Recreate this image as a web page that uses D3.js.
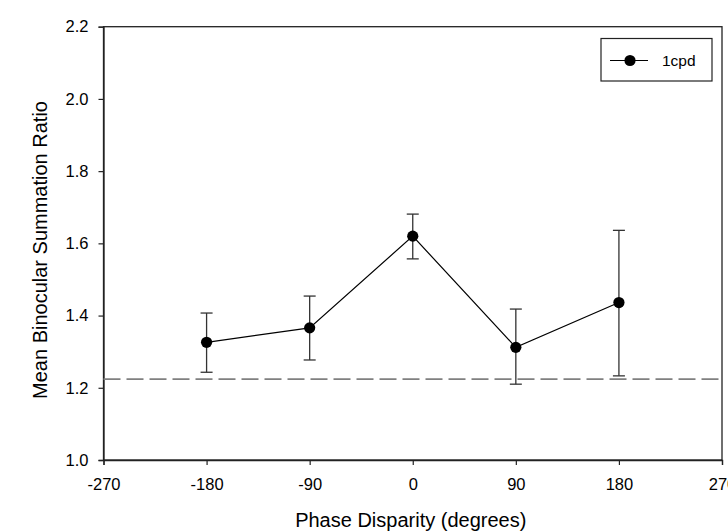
<!DOCTYPE html>
<html><head><meta charset="utf-8">
<script src="https://cdn.jsdelivr.net/npm/d3@7"></script>
<style>body{margin:0;background:#fff}svg{display:block}text{font-family:"Liberation Sans",Arial,sans-serif}</style>
</head><body>
<svg id="c" width="728" height="531"></svg>
<script>
const phases = [-180, -90, 0, 90, 180];
const means = [1.326, 1.366, 1.620, 1.312, 1.436];
const errUpper = [1.407, 1.454, 1.681, 1.418, 1.636];
const errLower = [1.243, 1.277, 1.557, 1.210, 1.233];
const baseline = 1.224;
const xTicks = [-270, -180, -90, 0, 90, 180, 270];
const yTicks = [1.0, 1.2, 1.4, 1.6, 1.8, 2.0, 2.2];
const seriesName = "1cpd";

const svg = d3.select("#c");
const L = 103.5, R = 722, T = 26.7, B = 460;
const x = d3.scaleLinear().domain([-270, 270]).range([L, R]);
const y = d3.scaleLinear().domain([1.0, 2.2]).range([B, T]);

svg.append("rect").attr("x", L).attr("y", T).attr("width", R - L).attr("height", B - T)
  .attr("fill", "none").attr("stroke", "#222").attr("stroke-width", 1.3);

const xAxis = svg.append("g").attr("transform", `translate(0,${B})`)
  .call(d3.axisBottom(x).tickValues(xTicks).tickSize(5).tickPadding(13).tickFormat(d => String(d)));
const yAxis = svg.append("g").attr("transform", `translate(${L},0)`)
  .call(d3.axisLeft(y).tickValues(yTicks).tickSize(5).tickPadding(10).tickFormat(d => d.toFixed(1)));
[xAxis, yAxis].forEach(g => {
  g.attr("font-size", null).attr("font-family", null);
  g.select(".domain").attr("stroke", "#222").attr("stroke-width", 1.3);
  g.selectAll(".tick line").attr("stroke", "#222").attr("stroke-width", 1.2);
  g.selectAll("text").attr("fill", "#000").style("font-size", "16.5px");
});
xAxis.selectAll("text").attr("dy", "0.71em");

svg.append("line").attr("x1", L).attr("x2", R).attr("y1", y(baseline)).attr("y2", y(baseline))
  .attr("stroke", "#808080").attr("stroke-width", 1.7).attr("stroke-dasharray", "17,6");

const data = phases.map((p, i) => ({p, m: means[i], hi: errUpper[i], lo: errLower[i]}));

const eb = svg.append("g").attr("stroke", "#333").attr("stroke-width", 1.3);
data.forEach(d => {
  eb.append("line").attr("x1", x(d.p)).attr("x2", x(d.p)).attr("y1", y(d.hi)).attr("y2", y(d.lo));
  eb.append("line").attr("x1", x(d.p) - 6).attr("x2", x(d.p) + 6).attr("y1", y(d.hi)).attr("y2", y(d.hi));
  eb.append("line").attr("x1", x(d.p) - 6).attr("x2", x(d.p) + 6).attr("y1", y(d.lo)).attr("y2", y(d.lo));
});

svg.append("path").datum(data)
  .attr("d", d3.line().x(d => x(d.p)).y(d => y(d.m)))
  .attr("fill", "none").attr("stroke", "#000").attr("stroke-width", 1.2);

svg.append("g").selectAll("circle").data(data).join("circle")
  .attr("cx", d => x(d.p)).attr("cy", d => y(d.m)).attr("r", 5.6).attr("fill", "#000");

const lg = svg.append("g");
lg.append("rect").attr("x", 601).attr("y", 38.5).attr("width", 111).attr("height", 42.5)
  .attr("fill", "#fff").attr("stroke", "#222").attr("stroke-width", 1.2);
lg.append("line").attr("x1", 610).attr("x2", 648).attr("y1", 60.5).attr("y2", 60.5).attr("stroke", "#000").attr("stroke-width", 1.2);
lg.append("circle").attr("cx", 630).attr("cy", 60.5).attr("r", 5.6).attr("fill", "#000");
lg.append("text").attr("x", 662).attr("y", 66).text(seriesName).style("font-size", "15.5px").attr("fill", "#000");

svg.append("text").attr("x", (L + R) / 2 - 2).attr("y", 527).attr("text-anchor", "middle")
  .style("font-size", "20px").attr("fill", "#000").text("Phase Disparity (degrees)");
svg.append("text").attr("transform", `translate(47,250) rotate(-90)`).attr("text-anchor", "middle")
  .style("font-size", "20px").attr("fill", "#000").text("Mean Binocular Summation Ratio");
</script>
</body></html>
